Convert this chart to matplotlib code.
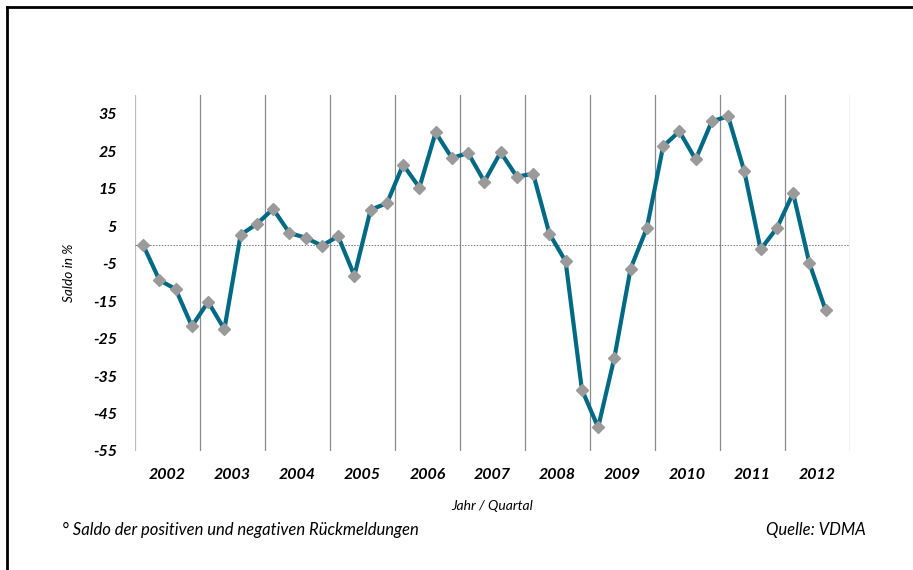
import matplotlib.pyplot as plt
from matplotlib.lines import Line2D

# quarterly balance in %, 2002 Q1 .. 2012 Q3
years = ["2002", "2003", "2004", "2005", "2006", "2007",
         "2008", "2009", "2010", "2011", "2012"]
saldo = [
    0.0, -9.4, -11.8, -21.7,      # 2002
    -15.2, -22.5, 2.7, 5.6,       # 2003
    9.6, 3.2, 1.9, -0.2,          # 2004
    2.3, -8.2, 9.4, 11.1,         # 2005
    21.4, 15.3, 30.0, 23.2,       # 2006
    24.5, 16.9, 24.7, 18.2,       # 2007
    19.0, 3.0, -4.4, -38.6,       # 2008
    -48.7, -30.1, -6.3, 4.5,      # 2009
    26.3, 30.3, 22.8, 33.0,       # 2010
    34.3, 19.6, -1.2, 4.5,        # 2011
    13.8, -4.9, -17.4,            # 2012
]
y_ticks = [35, 25, 15, 5, -5, -15, -25, -35, -45, -55]

plt.rcParams['font.family'] = ['Lato', 'DejaVu Sans']

fig = plt.figure(figsize=(9.13, 5.70), dpi=100)
ax = fig.add_axes([135 / 913, 119 / 570, 715 / 913, 356 / 570])

x = [i + 0.5 for i in range(len(saldo))]
ax.plot(x, saldo, color='#006a84', linewidth=3.0, marker='D', markersize=6.5,
        markerfacecolor='#9a9a9a', markeredgecolor='#9a9a9a', zorder=3)

ax.axhline(0, color='#777777', linewidth=0.7, linestyle=(0, (1.5, 1.5)), zorder=1)
for k in range(len(years) + 1):
    ax.axvline(4 * k, color='#8a8a8a' if k else '#bbbbbb', linewidth=0.9, zorder=0)

ax.set_xlim(0, 4 * len(years))
ax.set_ylim(-55, 40)
ax.set_yticks(y_ticks)
ax.set_yticklabels([str(v) for v in y_ticks], fontsize=11.5, fontweight='bold',
                   fontstyle='italic')
ax.set_xticks([4 * k + 2 for k in range(len(years))])
ax.set_xticklabels(years, fontsize=11.5, fontweight='bold', fontstyle='italic')
ax.tick_params(axis='both', length=0)
ax.tick_params(axis='y', pad=13)
ax.tick_params(axis='x', pad=12)
for s in ax.spines.values():
    s.set_visible(False)

ax.set_ylabel('Saldo in %', fontsize=9.8, fontstyle='italic', labelpad=13)
ax.set_xlabel('Jahr / Quartal', fontsize=10, fontstyle='italic', labelpad=13)

fig.text(62 / 913, 1 - 530 / 570, '° Saldo der positiven und negativen Rückmeldungen',
         fontsize=12, fontstyle='italic', va='center', ha='left')
fig.text(866 / 913, 1 - 530 / 570, 'Quelle: VDMA',
         fontsize=12, fontstyle='italic', va='center', ha='right')

# frame around the picture (top and left edge)
fig.add_artist(Line2D([7 / 913, 1], [1 - 7 / 570, 1 - 7 / 570], color='black',
                      linewidth=2, transform=fig.transFigure))
fig.add_artist(Line2D([7 / 913, 7 / 913], [0, 1 - 7 / 570], color='black',
                      linewidth=2, transform=fig.transFigure))

fig.savefig('out.png', dpi=100)
